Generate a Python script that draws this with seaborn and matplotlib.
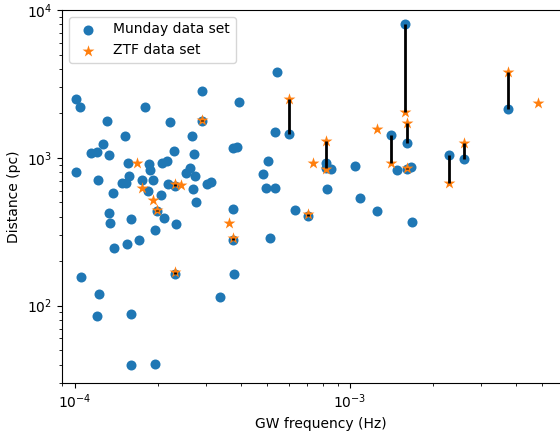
import numpy as np
import pandas as pd
import matplotlib
matplotlib.use("Agg")
import matplotlib.pyplot as plt
import seaborn as sns

# objects found in both sets: frequency, Munday distance, ZTF distance
pair_freq = [2.896e-4, 2.310e-4, 1.992e-4, 3.763e-4, 2.310e-4, 7.055e-4, 1.616e-3,
             6.015e-4, 1.589e-3, 1.616e-3, 8.20e-4, 1.406e-3, 2.297e-3, 2.604e-3, 3.763e-3]
pair_munday = [1778, 650, 438, 279, 164.5, 406, 843,
               1453, 8043, 1269, 850, 1437, 1043, 989, 2134]
pair_ztf = [1815, 663, 447, 285, 168, 414, 860,
            2503, 2036, 1732, 1297, 925, 681, 1269, 3794]

# only in Munday
munday_freq = [5.41e-4, 1.006e-4, 1.043e-4, 2.896e-4, 3.958e-4, 1.797e-4, 1.310e-4, 2.215e-4,
               1.524e-4, 2.663e-4, 5.34e-4, 1.261e-4, 1.141e-4, 1.206e-4, 1.329e-4, 2.285e-4,
               2.707e-4, 3.763e-4, 3.873e-4, 5.045e-4, 1.011e-4, 1.562e-4, 1.863e-4, 1.874e-4,
               2.067e-4, 2.156e-4, 2.619e-4, 2.532e-4, 2.731e-4, 4.838e-4, 1.215e-4, 1.576e-4,
               1.478e-4, 1.532e-4, 1.748e-4, 1.917e-4, 1.847e-4, 2.173e-4, 2.679e-4, 3.012e-4,
               3.122e-4, 4.949e-4, 5.336e-4, 1.378e-4, 2.049e-4, 2.754e-4, 1.326e-4, 1.598e-4,
               2.112e-4, 1.340e-4, 2.336e-4, 3.745e-4, 6.31e-4, 1.959e-4, 5.13e-4, 1.713e-4,
               1.549e-4, 1.389e-4, 3.786e-4, 1.051e-4, 1.219e-4, 3.368e-4, 1.206e-4, 1.598e-4,
               1.594e-4, 1.949e-4, 8.18e-4, 8.53e-4, 1.040e-3, 1.478e-3, 1.666e-3, 8.25e-4,
               1.087e-3, 1.254e-3, 1.680e-3]
munday_dist = [3828, 2492, 2221, 2849, 2379, 2212, 1770, 1743,
               1408, 1402, 1505, 1243, 1081, 1098, 1043, 1120,
               1059, 1163, 1181, 950, 808, 929, 907, 830,
               921, 959, 860, 788, 756, 783, 707, 759,
               675, 681, 710, 710, 598, 664, 614, 664,
               685, 624, 624, 577, 562, 504, 425, 387,
               389, 365, 356, 454, 445, 323, 288, 278,
               262, 247, 163.8, 155.3, 120.5, 113.8, 85.2, 87.3,
               39.5, 40.6, 921, 843, 887, 826, 869, 620,
               534, 436, 369]

# only in ZTF
ztf_freq = [1.684e-4, 1.757e-4, 2.423e-4, 1.917e-4, 3.622e-4, 4.8e-3, 1.257e-3, 7.35e-4, 8.18e-4]
ztf_dist = [925, 630, 657, 520, 362, 2353, 1563, 925, 843]

munday = pd.DataFrame({"freq": munday_freq + pair_freq, "dist": munday_dist + pair_munday})
ztf = pd.DataFrame({"freq": ztf_freq + pair_freq, "dist": ztf_dist + pair_ztf})

fig = plt.figure(figsize=(5.6, 4.32), dpi=100)
ax = fig.add_axes([62/560, 49/432, 518/560, 373/432])

sns.scatterplot(data=munday, x="freq", y="dist", ax=ax, color="#1f77b4", s=52,
                linewidth=0, label="Munday data set")
sns.scatterplot(data=ztf, x="freq", y="dist", ax=ax, color="#ff7f0e", marker="*", s=80,
                linewidth=0, label="ZTF data set")
ax.vlines(pair_freq, pair_munday, pair_ztf, color="k", linewidth=2, zorder=3)

ax.set_xscale("log")
ax.set_yscale("log")
ax.set_xlim(8.97e-5, 6.85e-3)
ax.set_ylim(30, 1e4)
ax.set_xlabel("GW frequency (Hz)")
ax.set_ylabel("Distance (pc)")
ax.legend(loc="upper left")

fig.savefig("out.png", dpi=100)
